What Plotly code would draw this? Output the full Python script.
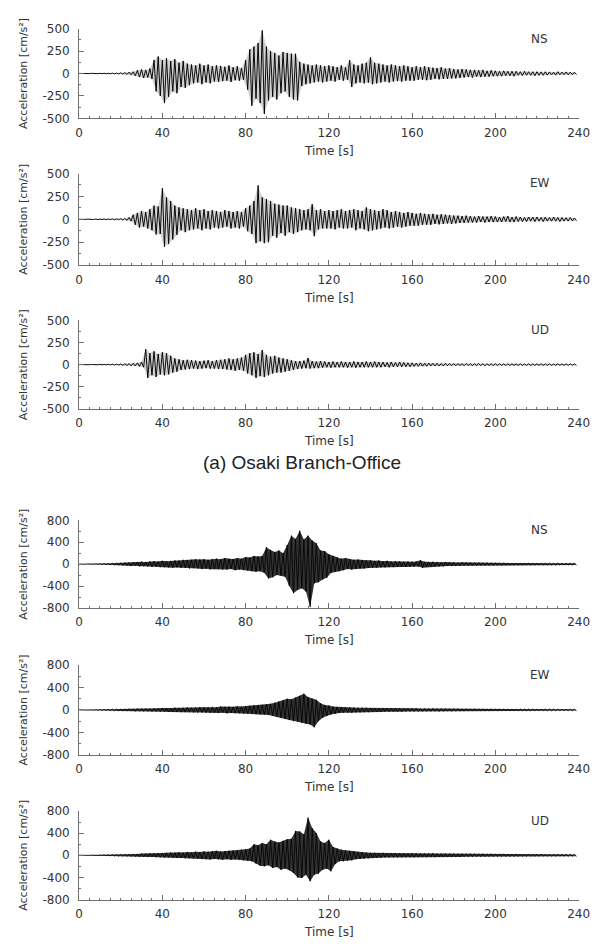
import numpy as np
import plotly.graph_objects as go

# Peak acceleration (cm/s^2) in consecutive 2-second windows, 0-240 s.
# "_max" is the largest positive excursion, "_min" the largest negative one.
time_window_s = 2.0

osaki_ns_max = [1, 1, 1, 2, 2, 2, 3, 3, 4, 5,
                8, 10, 15, 20, 35, 45, 40, 55, 150, 190,
                150, 170, 140, 160, 120, 140, 110, 100, 90, 110,
                90, 100, 80, 90, 85, 75, 90, 70, 80, 60,
                150, 270, 300, 340, 480, 300, 250, 230, 200, 240,
                230, 220, 220, 130, 110, 100, 90, 100, 90, 80,
                90, 80, 70, 90, 70, 150, 100, 90, 110, 120,
                180, 120, 110, 100, 90, 100, 90, 80, 90, 80,
                70, 80, 70, 80, 70, 65, 60, 70, 55, 60,
                50, 45, 50, 45, 40, 40, 35, 40, 30, 35,
                30, 25, 30, 25, 25, 25, 20, 25, 20, 20,
                20, 18, 20, 18, 15, 20, 15, 18, 15, 15]
osaki_ns_min = [-1, -1, -1, -2, -2, -2, -3, -4, -4, -5,
                -8, -12, -15, -25, -40, -50, -45, -60, -200, -250,
                -330, -260, -200, -220, -150, -160, -130, -110, -100, -120,
                -100, -110, -90, -95, -85, -80, -95, -75, -80, -70,
                -180, -360, -280, -330, -450, -300, -260, -290, -220, -200,
                -260, -290, -300, -140, -120, -110, -100, -90, -100, -90,
                -80, -90, -70, -80, -70, -150, -110, -100, -110, -100,
                -120, -110, -100, -90, -100, -90, -85, -90, -80, -80,
                -80, -70, -70, -75, -70, -60, -65, -60, -60, -55,
                -55, -50, -45, -40, -45, -35, -40, -35, -35, -30,
                -30, -30, -25, -25, -30, -20, -25, -20, -20, -25,
                -20, -20, -18, -15, -18, -15, -15, -15, -15, -12]

osaki_ew_max = [1, 1, 2, 2, 3, 3, 4, 4, 5, 5,
                8, 10, 20, 50, 70, 90, 80, 110, 150, 140,
                340, 240, 200, 150, 130, 120, 110, 100, 120, 100,
                110, 90, 100, 90, 80, 100, 90, 80, 90, 80,
                120, 150, 200, 370, 240, 220, 200, 170, 160, 150,
                150, 130, 120, 110, 100, 110, 166, 100, 110, 90,
                100, 90, 100, 110, 90, 100, 110, 100, 90, 130,
                110, 100, 90, 110, 100, 80, 90, 80, 70, 80,
                70, 60, 70, 60, 55, 60, 50, 55, 50, 45,
                40, 40, 35, 40, 35, 30, 35, 30, 30, 35,
                30, 25, 30, 35, 25, 30, 25, 20, 25, 25,
                25, 20, 25, 20, 25, 20, 20, 18, 20, 15]
osaki_ew_min = [-1, -1, -2, -2, -3, -3, -4, -4, -5, -5,
                -8, -12, -20, -60, -90, -80, -100, -120, -165, -160,
                -300, -270, -220, -170, -120, -140, -120, -110, -100, -120,
                -100, -110, -90, -100, -90, -80, -100, -90, -100, -80,
                -130, -160, -260, -240, -260, -250, -180, -200, -150, -180,
                -140, -160, -140, -120, -110, -120, -185, -110, -100, -100,
                -100, -110, -90, -100, -100, -90, -120, -100, -110, -130,
                -120, -110, -100, -90, -100, -90, -80, -90, -80, -70,
                -70, -70, -60, -60, -60, -50, -55, -50, -45, -50,
                -45, -40, -40, -35, -35, -35, -30, -35, -30, -30,
                -30, -30, -25, -30, -30, -25, -25, -25, -20, -25,
                -20, -25, -20, -20, -20, -25, -20, -20, -18, -15]

osaki_ud_max = [1, 1, 1, 2, 2, 3, 3, 4, 5, 6,
                8, 10, 12, 15, 20, 30, 175, 130, 150, 120,
                140, 130, 100, 70, 60, 50, 55, 50, 45, 40,
                45, 50, 40, 50, 55, 60, 70, 60, 70, 80,
                110, 130, 140, 120, 165, 110, 90, 100, 80, 70,
                60, 50, 40, 40, 45, 75, 40, 35, 40, 35,
                30, 35, 30, 35, 30, 30, 35, 30, 30, 35,
                30, 35, 30, 30, 25, 30, 25, 30, 25, 20,
                20, 18, 20, 15, 18, 15, 15, 12, 15, 12,
                12, 12, 10, 12, 10, 10, 12, 10, 10, 10,
                10, 10, 9, 10, 10, 9, 10, 9, 10, 9,
                9, 10, 9, 9, 8, 9, 8, 9, 8, 8]
osaki_ud_min = [-1, -1, -1, -2, -2, -3, -3, -4, -5, -6,
                -8, -10, -14, -15, -20, -30, -150, -120, -140, -110,
                -120, -110, -90, -80, -60, -55, -50, -45, -50, -45,
                -40, -45, -45, -50, -50, -55, -60, -70, -60, -70,
                -100, -120, -150, -130, -140, -120, -100, -90, -90, -80,
                -70, -60, -50, -45, -40, -45, -40, -40, -35, -30,
                -35, -30, -30, -30, -35, -30, -35, -30, -30, -30,
                -30, -30, -30, -25, -30, -25, -25, -25, -25, -25,
                -20, -20, -18, -18, -15, -15, -15, -15, -12, -12,
                -12, -10, -12, -10, -10, -10, -10, -12, -10, -10,
                -10, -9, -10, -10, -9, -10, -9, -9, -10, -9,
                -9, -9, -9, -8, -9, -8, -8, -8, -8, -8]

site2_ns_max = [2, 2, 3, 3, 5, 8, 10, 12, 15, 20,
                25, 30, 30, 35, 40, 45, 40, 50, 55, 50,
                60, 55, 60, 70, 65, 80, 75, 80, 90, 85,
                90, 80, 95, 100, 90, 110, 100, 95, 110, 100,
                130, 120, 150, 140, 150, 310, 260, 220, 250, 200,
                350, 520, 460, 610, 450, 520, 430, 380, 250, 240,
                180, 150, 120, 100, 110, 90, 80, 85, 75, 70,
                70, 60, 65, 55, 60, 50, 55, 50, 45, 50,
                45, 50, 70, 45, 40, 45, 40, 35, 40, 35,
                35, 30, 35, 30, 30, 28, 30, 25, 28, 25,
                25, 22, 25, 22, 20, 22, 20, 20, 18, 20,
                18, 20, 18, 18, 16, 18, 16, 16, 15, 15]
site2_ns_min = [-2, -2, -3, -3, -5, -8, -10, -12, -15, -20,
                -25, -25, -35, -30, -40, -40, -45, -50, -45, -55,
                -55, -60, -65, -60, -70, -70, -80, -75, -80, -90,
                -85, -95, -90, -90, -100, -100, -90, -110, -100, -110,
                -120, -130, -140, -130, -160, -260, -240, -200, -210, -230,
                -400, -530, -470, -440, -500, -780, -350, -330, -280, -250,
                -160, -140, -130, -110, -90, -100, -90, -80, -80, -70,
                -65, -65, -60, -60, -55, -55, -50, -50, -50, -45,
                -50, -45, -65, -50, -45, -40, -40, -40, -35, -35,
                -30, -35, -30, -30, -30, -30, -28, -28, -25, -25,
                -25, -25, -22, -22, -22, -20, -20, -20, -20, -18,
                -18, -18, -18, -16, -18, -16, -16, -15, -16, -15]

site2_ew_max = [1, 2, 2, 3, 5, 8, 10, 12, 15, 15,
                20, 18, 22, 20, 25, 25, 28, 25, 30, 30,
                35, 30, 35, 40, 35, 40, 45, 40, 45, 50,
                50, 45, 55, 50, 60, 55, 60, 55, 65, 60,
                70, 75, 80, 85, 90, 100, 110, 130, 150, 170,
                200, 190, 220, 250, 290, 230, 200, 180, 120, 90,
                80, 60, 55, 50, 50, 45, 45, 40, 40, 40,
                35, 35, 30, 35, 30, 30, 30, 28, 28, 30,
                28, 30, 25, 28, 25, 30, 25, 25, 25, 22,
                22, 25, 20, 22, 20, 22, 20, 20, 18, 20,
                20, 18, 18, 20, 18, 16, 18, 16, 16, 18,
                16, 15, 16, 15, 15, 15, 14, 14, 14, 12]
site2_ew_min = [-1, -2, -2, -3, -5, -8, -10, -12, -15, -18,
                -18, -20, -20, -25, -22, -25, -25, -30, -28, -30,
                -30, -35, -35, -35, -40, -40, -40, -45, -45, -45,
                -50, -55, -50, -55, -50, -60, -55, -60, -60, -65,
                -65, -70, -75, -80, -85, -90, -100, -120, -140, -160,
                -180, -200, -210, -230, -250, -260, -310, -200, -140, -110,
                -80, -70, -55, -50, -45, -50, -45, -45, -40, -40,
                -35, -35, -35, -30, -30, -30, -28, -30, -28, -28,
                -28, -28, -28, -25, -25, -25, -28, -25, -22, -25,
                -22, -22, -22, -20, -20, -20, -20, -20, -20, -18,
                -18, -20, -18, -18, -18, -18, -16, -16, -16, -16,
                -16, -16, -15, -15, -15, -14, -15, -14, -14, -12]

site2_ud_max = [1, 2, 2, 3, 4, 5, 8, 10, 12, 15,
                18, 20, 22, 25, 25, 30, 30, 35, 35, 40,
                40, 45, 50, 45, 55, 50, 60, 55, 65, 60,
                70, 65, 75, 80, 70, 75, 80, 85, 90, 100,
                110, 120, 200, 180, 220, 200, 280, 250, 230, 260,
                290, 300, 440, 430, 380, 680, 490, 400, 250, 220,
                280, 150, 120, 100, 90, 80, 70, 60, 55, 50,
                45, 45, 40, 45, 40, 40, 38, 35, 40, 35,
                40, 35, 35, 32, 35, 40, 32, 30, 30, 32,
                30, 28, 30, 28, 30, 28, 26, 28, 25, 26,
                25, 24, 25, 24, 22, 24, 22, 22, 22, 20,
                20, 22, 20, 20, 18, 20, 18, 18, 18, 16]
site2_ud_min = [-1, -2, -2, -3, -4, -5, -8, -10, -12, -15,
                -18, -20, -22, -25, -28, -28, -30, -30, -35, -38,
                -45, -40, -45, -50, -50, -55, -55, -60, -60, -65,
                -70, -75, -65, -70, -80, -70, -80, -75, -80, -90,
                -100, -110, -150, -190, -200, -180, -230, -210, -260, -240,
                -270, -320, -400, -410, -350, -470, -350, -330, -260, -240,
                -290, -160, -110, -110, -100, -90, -70, -65, -60, -55,
                -50, -45, -45, -40, -40, -38, -40, -38, -35, -35,
                -38, -35, -33, -35, -32, -35, -30, -32, -30, -30,
                -30, -30, -28, -28, -28, -26, -28, -26, -26, -25,
                -25, -25, -24, -24, -24, -22, -22, -22, -20, -22,
                -20, -20, -20, -18, -20, -18, -18, -18, -16, -16]

component_names = ["NS", "EW", "UD"]
upper_records = [(osaki_ns_max, osaki_ns_min), (osaki_ew_max, osaki_ew_min), (osaki_ud_max, osaki_ud_min)]
lower_records = [(site2_ns_max, site2_ns_min), (site2_ew_max, site2_ew_min), (site2_ud_max, site2_ud_min)]

upper_ticks = [500, 250, 0, -250, -500]
lower_ticks = [800, 400, 0, -400, -800]
time_ticks = [0, 40, 80, 120, 160, 200, 240]

caption_a = "(a) Osaki Branch-Office"

# ---- page geometry (pixels) ----
W, H = 613, 947
X0, X1 = 77, 589
panel_px = [(22, 113), (169, 262), (318, 408), (521, 610), (668, 759), (816, 906)]

AXIS_COLOR = "#707070"
TEXT_COLOR = "#333333"
TICK_FONT = dict(family="DejaVu Sans", size=12, color=TEXT_COLOR)


def py(px):
    return 1 - px / H


def trace_xy(maxima, minima):
    """Zig-zag through the window peaks: max at the window start, min half a window later."""
    n = len(maxima)
    start = np.arange(n) * time_window_s
    x = np.empty(2 * n)
    y = np.empty(2 * n)
    x[0::2] = start
    x[1::2] = start + time_window_s / 2
    y[0::2] = maxima
    y[1::2] = minima
    return x, y


def envelope_xy(maxima, minima):
    """Closed polygon between the upper and lower peak envelopes."""
    n = len(maxima)
    start = np.arange(n) * time_window_s
    x = np.concatenate([start, (start + time_window_s / 2)[::-1]])
    y = np.concatenate([np.asarray(maxima, float), np.asarray(minima, float)[::-1]])
    return x, y


fig = go.Figure()
layout = dict(
    width=W, height=H, margin=dict(l=0, r=0, t=0, b=0),
    paper_bgcolor="white", plot_bgcolor="white", showlegend=False,
)
annotations = []

records = upper_records + lower_records
for i, (maxima, minima) in enumerate(records):
    k = "" if i == 0 else str(i + 1)
    fill_alpha = 0.18 if i < 3 else 0.8
    line_w = 0.95 if i < 3 else 0.8

    ex, ey = envelope_xy(maxima, minima)
    fig.add_trace(go.Scatter(x=ex, y=ey, mode="lines", fill="toself",
                             fillcolor=f"rgba(0,0,0,{fill_alpha})", line=dict(width=0),
                             xaxis="x" + k, yaxis="y" + k, hoverinfo="skip"))
    x, y = trace_xy(maxima, minima)
    fig.add_trace(go.Scatter(x=x, y=y, mode="lines", xaxis="x" + k, yaxis="y" + k,
                             line=dict(color="black", width=line_w), hoverinfo="skip"))

    ticks = upper_ticks if i < 3 else lower_ticks
    top_px, bot_px = panel_px[i]
    layout["xaxis" + k] = dict(
        domain=[X0 / W, X1 / W], range=[0, 240], anchor="y" + k,
        tickvals=time_ticks, ticks="inside", ticklen=5, tickcolor=AXIS_COLOR,
        showline=True, linecolor=AXIS_COLOR, linewidth=1, showgrid=False, zeroline=False,
        tickfont=TICK_FONT, ticklabelstandoff=3,
        minor=dict(dtick=5, tick0=0, ticks="inside", ticklen=2, tickcolor=AXIS_COLOR, showgrid=False),
    )
    layout["yaxis" + k] = dict(
        domain=[py(bot_px), py(top_px)], range=[ticks[-1], ticks[0]], anchor="x" + k,
        tickvals=ticks, ticktext=[str(v) for v in ticks],
        ticks="inside", ticklen=5, tickcolor=AXIS_COLOR,
        showline=True, linecolor=AXIS_COLOR, linewidth=1, showgrid=False, zeroline=False,
        tickfont=TICK_FONT, ticklabelstandoff=6,
        minor=dict(dtick=(ticks[0] - ticks[1]) / 2, tick0=0, ticks="inside", ticklen=2,
                   tickcolor=AXIS_COLOR, showgrid=False),
    )

    mid = (top_px + bot_px) / 2
    annotations.append(dict(text="Acceleration [cm/s²]", x=20 / W, y=py(mid), xref="paper", yref="paper",
                            textangle=-90, showarrow=False, xanchor="center", yanchor="middle",
                            font=dict(family="DejaVu Sans", size=11, color=TEXT_COLOR)))
    annotations.append(dict(text="Time [s]", x=(X0 + X1) / 2 / W, y=py(bot_px + 33), xref="paper", yref="paper",
                            showarrow=False, xanchor="center", yanchor="middle",
                            font=dict(family="DejaVu Sans", size=12, color=TEXT_COLOR)))
    annotations.append(dict(text=component_names[i % 3], x=549 / W, y=py(top_px + 10), xref="paper", yref="paper",
                            showarrow=False, xanchor="center", yanchor="middle",
                            font=dict(family="DejaVu Sans", size=12, color=TEXT_COLOR)))

annotations.append(dict(text=caption_a, x=305 / W, y=py(462), xref="paper", yref="paper",
                        showarrow=False, xanchor="center", yanchor="middle",
                        font=dict(family="Liberation Sans", size=19, color="#222222")))

layout["annotations"] = annotations
fig.update_layout(**layout)
fig.write_html("out.html")
